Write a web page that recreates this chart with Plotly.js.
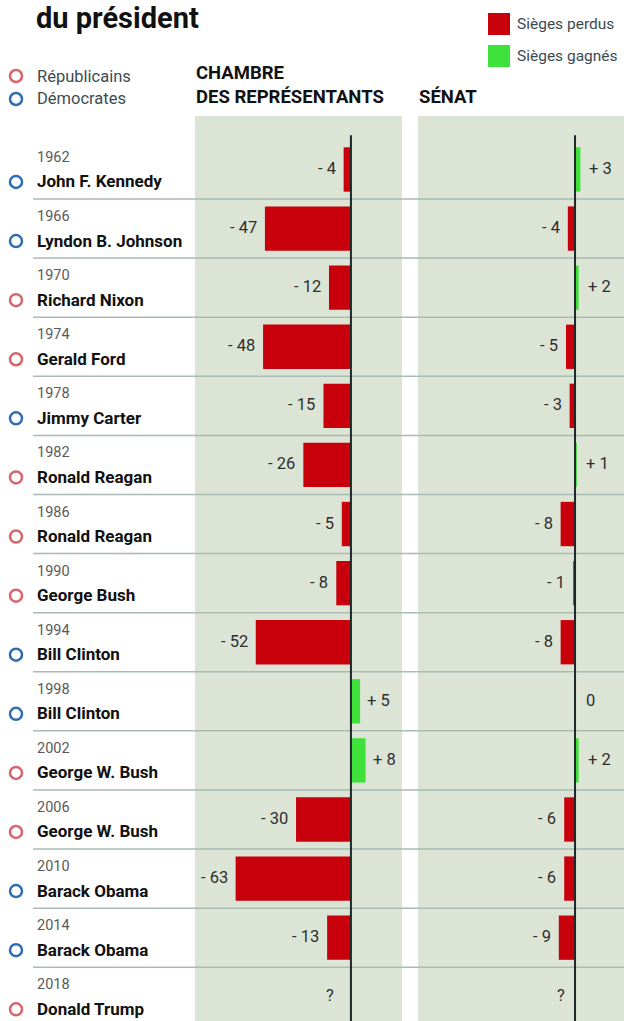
<!DOCTYPE html>
<html>
<head>
<meta charset="utf-8">
<script src="https://cdn.plot.ly/plotly-3.0.1.min.js"></script>
<style>
html,body{margin:0;padding:0;background:#fff;}
#chart{width:624px;height:1021px;}
</style>
</head>
<body>
<div id="chart"></div>
<script>
// ---- data ----
const years = ['1962','1966','1970','1974','1978','1982','1986','1990','1994','1998','2002','2006','2010','2014','2018'];
const presidents = ['John F. Kennedy','Lyndon B. Johnson','Richard Nixon','Gerald Ford','Jimmy Carter','Ronald Reagan','Ronald Reagan','George Bush','Bill Clinton','Bill Clinton','George W. Bush','George W. Bush','Barack Obama','Barack Obama','Donald Trump'];
const parties = ['D','D','R','R','D','R','R','R','D','D','R','R','D','D','R'];
const houseSeats = [-4,-47,-12,-48,-15,-26,-5,-8,-52,5,8,-30,-63,-13,null];
const senateSeats = [3,-4,2,-5,-3,1,-8,-1,-8,0,2,-6,-6,-9,null];
const titleText = 'du président';
const legendLost = 'Sièges perdus';
const legendWon = 'Sièges gagnés';
const partyNames = {R:'Républicains', D:'Démocrates'};
const houseTitle = 'CHAMBRE<br>DES REPRÉSENTANTS';
const senateTitle = 'SÉNAT';

// ---- style ----
const W = 624, H = 1021;
const FONT = "Roboto, 'Liberation Sans', sans-serif";
const RED = '#c8000c', GREEN = '#3ee23a';
const partyColor = {R:'#d8646c', D:'#2f6cb4'};
const px = v => v / W;          // pixel -> paper x
const py = v => 1 - v / H;      // pixel -> paper y
const f = (size, color) => ({family:FONT, size:size, color:color, stretch:'condensed'});

const idx = years.map((_, i) => i);
const barColor = v => (v < 0 ? RED : GREEN);

const traces = [
  {type:'bar', orientation:'h', x:houseSeats, y:idx, xaxis:'x', yaxis:'y',
   marker:{color:houseSeats.map(barColor)}, width:0.75, hoverinfo:'skip'},
  {type:'bar', orientation:'h', x:senateSeats, y:idx, xaxis:'x2', yaxis:'y',
   marker:{color:senateSeats.map(barColor)}, width:0.75, hoverinfo:'skip'}
];

const annotations = [];
const shapes = [];

function valueLabel(v) {
  if (v === null) return '?';
  if (v < 0) return '- ' + Math.abs(v);
  if (v > 0) return '+ ' + v;
  return '0';
}

function addValueLabels(values, xref, qShift, negShift, posShift, zeroShift) {
  values.forEach((v, i) => {
    let a = {xref:xref, yref:'y', y:i, yshift:1, showarrow:false, text:valueLabel(v),
             font:f(16.5, '#2e2e2e')};
    if (v === null) { a.x = 0; a.xanchor = 'right'; a.xshift = qShift; }
    else if (v < 0) { a.x = v; a.xanchor = 'right'; a.xshift = negShift; }
    else if (v > 0) { a.x = v; a.xanchor = 'left'; a.xshift = posShift; }
    else { a.x = 0; a.xanchor = 'left'; a.xshift = zeroShift; }
    annotations.push(a);
  });
}
addValueLabels(houseSeats, 'x', -15, -6, 5, 8);
addValueLabels(senateSeats, 'x2', -8, -6, 7, 9);

// row labels
years.forEach((y, i) => {
  annotations.push({xref:'paper', yref:'y', x:px(35), y:i, yshift:12, xanchor:'left', yanchor:'middle',
    showarrow:false, text:y, font:f(14.5, '#5a5a5a')});
  annotations.push({xref:'paper', yref:'y', x:px(35), y:i, yshift:-12, xanchor:'left', yanchor:'middle',
    showarrow:false, text:'<b>' + presidents[i] + '</b>', font:f(17, '#111')});
  shapes.push({type:'circle', xref:'paper', yref:'y', xsizemode:'pixel', ysizemode:'pixel',
    xanchor:px(16), yanchor:i, x0:-6, x1:6, y0:-18.5, y1:-6.5,
    line:{color:partyColor[parties[i]], width:2.5}, fillcolor:'rgba(0,0,0,0)', layer:'above'});
});

// row separators
for (let i = 0; i < years.length - 1; i++) {
  shapes.push({type:'line', xref:'paper', yref:'y', x0:px(33), x1:1, y0:i + 0.5, y1:i + 0.5,
    line:{color:'#a9bbb3', width:1.5}, layer:'above'});
}

// zero lines
['x','x2'].forEach(xr => {
  shapes.push({type:'line', xref:xr, yref:'y', x0:0, x1:0, y0:-0.58, y1:years.length,
    line:{color:'#1d2828', width:2}, layer:'above'});
});

// headers
annotations.push({xref:'paper', yref:'paper', x:px(194), y:py(110), xanchor:'left', yanchor:'bottom',
  showarrow:false, align:'left', text:'<b>' + houseTitle + '</b>', font:f(18.5, '#111')});
annotations.push({xref:'paper', yref:'paper', x:px(417), y:py(110), xanchor:'left', yanchor:'bottom',
  showarrow:false, align:'left', text:'<b>' + senateTitle + '</b>', font:f(18.5, '#111')});

// party legend
[['R', 76], ['D', 99]].forEach(([p, yy]) => {
  shapes.push({type:'circle', xref:'paper', yref:'paper', xsizemode:'pixel', ysizemode:'pixel',
    xanchor:px(16), yanchor:py(yy), x0:-6, x1:6, y0:-6, y1:6,
    line:{color:partyColor[p], width:2.5}, fillcolor:'rgba(0,0,0,0)'});
  annotations.push({xref:'paper', yref:'paper', x:px(35), y:py(yy), xanchor:'left', yanchor:'middle',
    showarrow:false, text:partyNames[p], font:f(16.5, '#3c4b52')});
});

// colour legend
[[RED, legendLost, 24], [GREEN, legendWon, 56]].forEach(([c, t, yy]) => {
  shapes.push({type:'rect', xref:'paper', yref:'paper', x0:px(488), x1:px(510), y0:py(yy - 11), y1:py(yy + 11),
    fillcolor:c, line:{width:0}});
  annotations.push({xref:'paper', yref:'paper', x:px(515), y:py(yy), xanchor:'left', yanchor:'middle',
    showarrow:false, text:t, font:f(15.5, '#3c4b52')});
});

const layout = {
  width:W, height:H,
  margin:{l:0, r:0, t:0, b:0, pad:0},
  paper_bgcolor:'#ffffff',
  plot_bgcolor:'#dce4d6',
  showlegend:false,
  barmode:'overlay',
  title:{text:'<b>' + titleText + '</b>', font:f(29, '#111'),
         x:px(36), xanchor:'left', xref:'paper', y:py(18), yanchor:'middle', yref:'container'},
  xaxis:{domain:[px(195), px(402)], range:[-85.2, 27.9], showgrid:false, zeroline:false,
         showticklabels:false, ticks:'', showline:false, fixedrange:true},
  xaxis2:{domain:[px(418), 1], range:[-87.2, 27.2], anchor:'y', showgrid:false, zeroline:false,
          showticklabels:false, ticks:'', showline:false, fixedrange:true},
  yaxis:{domain:[0, py(116)], range:[14.41, -0.905], showgrid:false, zeroline:false,
         showticklabels:false, ticks:'', showline:false, fixedrange:true},
  annotations:annotations,
  shapes:shapes
};

Plotly.newPlot('chart', traces, layout, {displayModeBar:false, staticPlot:true});
</script>
</body>
</html>
